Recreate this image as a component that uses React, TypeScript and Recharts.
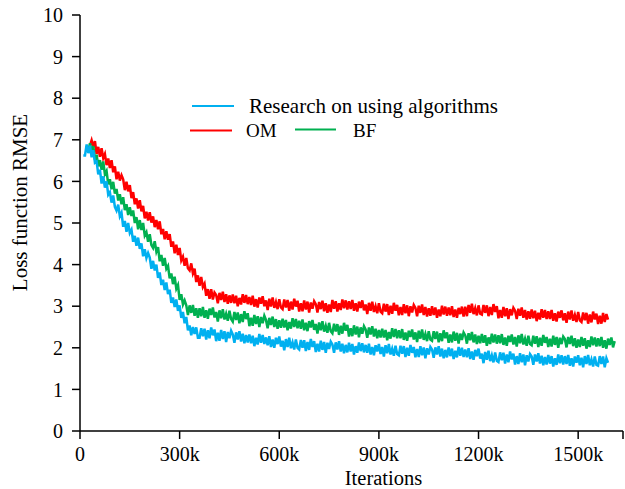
import React from 'react';
import { LineChart, Line, XAxis, YAxis, Legend, Label } from 'recharts';

// Iterations in thousands: 5k grid from 10k to 1610k
const START_K = 10;
const STEP_K = 5;

// Loss function RMSE, "Research on using algorithms" (blue)
const research: (number | null)[] = [
  6.62, 6.62, 6.89, 6.68, 6.86, 6.58, 6.75, 6.45, 6.48, 6.17,
  6.28, 5.95, 6.12, 5.85, 6.00, 5.68, 5.74, 5.49, 5.66, 5.39,
  5.30, 5.44, 5.16, 5.25, 4.91, 5.05, 4.79, 5.00, 4.76, 4.84,
  4.55, 4.69, 4.45, 4.65, 4.38, 4.51, 4.20, 4.37, 4.16, 4.28,
  4.17, 3.90, 4.09, 3.86, 4.00, 3.68, 3.81, 3.51, 3.64, 3.39,
  3.57, 3.29, 3.40, 3.08, 3.21, 2.98, 3.16, 2.89, 3.02, 2.72,
  2.86, 2.59, 2.74, 2.42, 2.54, 2.30, 2.50, 2.33, 2.49, 2.24,
  2.24, 2.47, 2.28, 2.46, 2.20, 2.42, 2.23, 2.49, 2.30, 2.44,
  2.16, 2.36, 2.17, 2.43, 2.21, 2.40, 2.14, 2.38, 2.23, 2.41,
  2.32, 2.12, 2.37, 2.20, 2.40, 2.15, 2.34, 2.11, 2.31, 2.13,
  2.32, 2.11, 2.29, 2.04, 2.24, 2.08, 2.33, 2.12, 2.31, 2.09,
  2.25, 2.06, 2.28, 2.02, 2.20, 2.00, 2.24, 2.09, 2.27, 2.03,
  2.17, 1.94, 2.21, 2.02, 2.24, 1.99, 2.13, 1.96, 2.20, 2.00,
  1.96, 2.19, 2.00, 2.18, 1.92, 2.14, 1.95, 2.21, 2.02, 2.16,
  1.90, 2.10, 1.91, 2.17, 1.95, 2.14, 1.88, 2.12, 1.97, 2.15,
  2.08, 1.88, 2.13, 1.96, 2.16, 1.91, 2.10, 1.87, 2.07, 1.89,
  2.12, 1.91, 2.09, 1.84, 2.04, 1.88, 2.13, 1.92, 2.11, 1.89,
  2.07, 1.88, 2.10, 1.84, 2.02, 1.82, 2.06, 1.91, 2.09, 1.85,
  2.02, 1.79, 2.06, 1.87, 2.09, 1.84, 1.98, 1.81, 2.05, 1.85,
  1.82, 2.05, 1.86, 2.04, 1.78, 2.00, 1.81, 2.07, 1.88, 2.02,
  1.77, 1.97, 1.78, 2.04, 1.82, 2.01, 1.75, 1.99, 1.84, 2.02,
  1.96, 1.76, 2.01, 1.84, 2.04, 1.79, 1.98, 1.75, 1.95, 1.77,
  2.01, 1.80, 1.98, 1.73, 1.93, 1.77, 2.02, 1.81, 2.00, 1.78,
  1.96, 1.77, 1.99, 1.73, 1.91, 1.71, 1.95, 1.80, 1.98, 1.74,
  1.86, 1.63, 1.90, 1.71, 1.93, 1.68, 1.82, 1.65, 1.89, 1.69,
  1.66, 1.89, 1.70, 1.88, 1.62, 1.84, 1.65, 1.91, 1.72, 1.86,
  1.60, 1.80, 1.61, 1.87, 1.65, 1.84, 1.58, 1.82, 1.67, 1.85,
  1.79, 1.59, 1.84, 1.67, 1.87, 1.62, 1.81, 1.58, 1.78, 1.60,
  1.83, 1.62, 1.80, 1.55, 1.75, 1.59, 1.84, 1.63, 1.82, 1.60,
  1.80, 1.61, 1.83, 1.57, 1.75, 1.55, 1.79, 1.64, 1.82, 1.58,
  1.76, 1.53, 1.80, 1.61, 1.83, 1.58, 1.72, 1.55, 1.79, 1.59,
  1.57, 1.80, 1.61, 1.79, 1.53, 1.75, 1.64,
  null, null, null, null,
];

// OM (red)
const om: (number | null)[] = [
  null, null, null, null,
  6.86, 6.99, 6.84, 6.97, 6.66, 6.83, 6.59, 6.80, 6.56, 6.66,
  6.39, 6.55, 6.32, 6.51, 6.22, 6.36, 6.05, 6.23, 6.02, 6.15,
  6.05, 5.79, 5.99, 5.76, 5.91, 5.60, 5.74, 5.45, 5.59, 5.35,
  5.55, 5.28, 5.41, 5.11, 5.27, 5.06, 5.26, 5.01, 5.16, 4.90,
  5.07, 4.85, 5.04, 4.73, 4.86, 4.61, 4.80, 4.60, 4.73, 4.43,
  4.56, 4.27, 4.48, 4.23, 4.40, 4.10, 4.19, 3.97, 4.16, 3.91,
  3.86, 4.03, 3.79, 3.90, 3.58, 3.74, 3.49, 3.70, 3.46, 3.54,
  3.25, 3.41, 3.18, 3.41, 3.16, 3.33,
  3.27, 3.07, 3.32, 3.15, 3.35, 3.10, 3.29, 3.06, 3.26, 3.08,
  3.28, 3.07, 3.25, 3.00, 3.20, 3.04, 3.29, 3.08, 3.27, 3.05,
  3.22, 3.03, 3.25, 2.99, 3.17, 2.97, 3.21, 3.06, 3.24, 3.00,
  3.14, 2.91, 3.18, 2.99, 3.21, 2.96, 3.10, 2.93, 3.17, 2.97,
  2.93, 3.16, 2.97, 3.15, 2.89, 3.11, 2.92, 3.18, 2.99, 3.13,
  2.87, 3.07, 2.88, 3.14, 2.92, 3.11, 2.85, 3.09, 2.94, 3.12,
  3.05, 2.85, 3.10, 2.93, 3.13, 2.88, 3.07, 2.84, 3.04, 2.86,
  3.15, 2.94, 3.12, 2.87, 3.07, 2.91, 3.16, 2.95, 3.14, 2.92,
  3.12, 2.93, 3.15, 2.89, 3.07, 2.87, 3.11, 2.96, 3.14, 2.90,
  3.04, 2.81, 3.08, 2.89, 3.11, 2.86, 3.00, 2.83, 3.07, 2.87,
  2.83, 3.06, 2.87, 3.05, 2.79, 3.01, 2.82, 3.08, 2.89, 3.03,
  2.78, 2.98, 2.79, 3.05, 2.83, 3.02, 2.76, 3.00, 2.85, 3.03,
  2.96, 2.76, 3.01, 2.84, 3.04, 2.79, 2.98, 2.75, 2.95, 2.77,
  3.00, 2.79, 2.97, 2.72, 2.92, 2.76, 3.01, 2.80, 2.99, 2.77,
  2.97, 2.78, 3.00, 2.74, 2.92, 2.72, 2.96, 2.81, 2.99, 2.75,
  2.99, 2.76, 3.03, 2.84, 3.06, 2.81, 2.95, 2.78, 3.02, 2.82,
  2.80, 3.03, 2.84, 3.02, 2.76, 2.98, 2.79, 3.05, 2.86, 3.00,
  2.71, 2.91, 2.72, 2.98, 2.76, 2.95, 2.69, 2.93, 2.78, 2.96,
  2.89, 2.69, 2.94, 2.77, 2.97, 2.72, 2.91, 2.68, 2.88, 2.70,
  2.92, 2.71, 2.89, 2.64, 2.84, 2.68, 2.93, 2.72, 2.91, 2.69,
  2.88, 2.69, 2.91, 2.65, 2.83, 2.63, 2.87, 2.72, 2.90, 2.66,
  2.83, 2.60, 2.87, 2.68, 2.90, 2.65, 2.79, 2.62, 2.86, 2.66,
  2.62, 2.85, 2.66, 2.84, 2.58, 2.80, 2.61, 2.87, 2.68, 2.82,
  2.57, 2.77, 2.58, 2.84, 2.62, 2.81, 2.68,
  null, null, null, null,
];

// BF (green)
const bf: (number | null)[] = [
  null, null,
  6.86, 6.71, 6.92, 6.70, 6.85, 6.52, 6.64, 6.36, 6.51, 6.28,
  6.48, 6.17, 6.25, 5.93, 6.05, 5.81, 5.99, 5.71, 5.82, 5.54,
  5.69, 5.45, 5.62, 5.31, 5.45, 5.19, 5.38, 5.17, 5.30, 5.00,
  5.14, 4.85, 5.07, 4.83, 5.00, 4.70, 4.78, 4.55, 4.73, 4.47,
  4.40, 4.56, 4.31, 4.42, 4.08, 4.23, 3.97, 4.16, 3.90, 3.97,
  3.67, 3.79, 3.53, 3.71, 3.42, 3.51, 3.15, 3.29, 3.04, 3.14,
  3.02, 2.79, 3.02, 2.84, 3.03, 2.77, 2.95, 2.72,
  2.95, 2.76, 2.98, 2.72, 2.90, 2.70, 2.94, 2.79, 2.97, 2.73,
  2.86, 2.63, 2.90, 2.71, 2.93, 2.68, 2.82, 2.65, 2.89, 2.69,
  2.63, 2.86, 2.67, 2.85, 2.59, 2.81, 2.62, 2.88, 2.69, 2.83,
  2.52, 2.72, 2.53, 2.79, 2.57, 2.76, 2.50, 2.74, 2.59, 2.77,
  2.67, 2.47, 2.72, 2.55, 2.75, 2.50, 2.69, 2.46, 2.66, 2.48,
  2.70, 2.49, 2.67, 2.42, 2.62, 2.46, 2.71, 2.50, 2.69, 2.47,
  2.65, 2.46, 2.68, 2.42, 2.60, 2.40, 2.64, 2.49, 2.67, 2.43,
  2.57, 2.34, 2.61, 2.42, 2.64, 2.39, 2.53, 2.36, 2.60, 2.40,
  2.35, 2.58, 2.39, 2.57, 2.31, 2.53, 2.34, 2.60, 2.41, 2.55,
  2.27, 2.47, 2.28, 2.54, 2.32, 2.51, 2.25, 2.49, 2.34, 2.52,
  2.44, 2.24, 2.49, 2.32, 2.52, 2.27, 2.46, 2.23, 2.43, 2.25,
  2.46, 2.25, 2.43, 2.18, 2.38, 2.22, 2.47, 2.26, 2.45, 2.23,
  2.42, 2.23, 2.45, 2.19, 2.37, 2.17, 2.41, 2.26, 2.44, 2.20,
  2.37, 2.14, 2.41, 2.22, 2.44, 2.19, 2.33, 2.16, 2.40, 2.20,
  2.17, 2.40, 2.21, 2.39, 2.13, 2.35, 2.16, 2.42, 2.23, 2.37,
  2.12, 2.32, 2.13, 2.39, 2.17, 2.36, 2.10, 2.34, 2.19, 2.37,
  2.30, 2.10, 2.35, 2.18, 2.38, 2.13, 2.32, 2.09, 2.29, 2.11,
  2.33, 2.12, 2.30, 2.05, 2.25, 2.09, 2.34, 2.13, 2.32, 2.10,
  2.30, 2.11, 2.33, 2.07, 2.25, 2.05, 2.29, 2.14, 2.32, 2.08,
  2.26, 2.03, 2.30, 2.11, 2.33, 2.08, 2.22, 2.05, 2.29, 2.09,
  2.06, 2.29, 2.10, 2.28, 2.02, 2.24, 2.05, 2.31, 2.12, 2.26,
  2.02, 2.22, 2.03, 2.29, 2.07, 2.26, 2.00, 2.24, 2.09, 2.27,
  2.21, 2.01, 2.26, 2.09, 2.29, 2.04, 2.23, 2.00, 2.20, 2.02,
  2.26, 2.05, 2.23, 1.98, 2.18, 2.02, 2.27, 2.06, 2.25, 2.03,
  2.23, 2.04, 2.26, 2.00, 2.18, 1.98, 2.22, 2.07, 2.25, 2.01, 2.16,
];

const xTicks = [0, 300, 600, 900, 1200, 1500, 1635];
const yTicks = [0, 1, 2, 3, 4, 5, 6, 7, 8, 9, 10];

const SERIES = [
  { key: 'om', name: 'OM', color: '#FF0000' },
  { key: 'bf', name: 'BF', color: '#00B050' },
  { key: 'research', name: 'Research on using algorithms', color: '#00B0F0' },
];

const data = research.map((_, i) => ({
  it: START_K + i * STEP_K,
  research: research[i],
  om: om[i] ?? null,
  bf: bf[i] ?? null,
}));

const FONT = "'Liberation Serif', 'Times New Roman', serif";

const legendLayout: Record<string, { x1: number; x2: number; y: number; tx: number; ty: number; fs: number }> = {
  'Research on using algorithms': { x1: 192, x2: 234, y: 106, tx: 249, ty: 113, fs: 21 },
  OM: { x1: 190, x2: 232, y: 130.5, tx: 246, ty: 137, fs: 19 },
  BF: { x1: 295, x2: 336, y: 129.5, tx: 353, ty: 137, fs: 19 },
};

const renderLegend = (props: any) => {
  const payload = props.payload || [];
  return (
    <svg width={625} height={489} style={{ position: 'absolute', left: 0, top: 0, pointerEvents: 'none' }}>
      {payload.map((p: any) => {
        const l = legendLayout[p.value];
        if (!l) return null;
        return (
          <g key={p.value}>
            <line x1={l.x1} x2={l.x2} y1={l.y} y2={l.y} stroke={p.color} strokeWidth={1.8} />
            <text x={l.tx} y={l.ty} fontSize={l.fs} fontFamily={FONT} fill="#000">
              {p.value}
            </text>
          </g>
        );
      })}
    </svg>
  );
};

const YTitle = (props: any) => {
  const vb = props.viewBox || { x: 0, y: 15, width: 80, height: 416 };
  const cx = vb.x + 27;
  const cy = vb.y + vb.height / 2 - 20.5;
  return (
    <text x={cx} y={cy} transform={`rotate(-90 ${cx} ${cy})`} textAnchor="middle" fontSize={21} fontFamily={FONT} fill="#000">
      Loss function RMSE
    </text>
  );
};

const XTitle = (props: any) => {
  const vb = props.viewBox || { x: 80, y: 431, width: 543, height: 58 };
  const cx = vb.x + vb.width / 2 + 32;
  const cy = vb.y + 53.5;
  return (
    <text x={cx} y={cy} textAnchor="middle" fontSize={20.5} fontFamily={FONT} fill="#000">
      Iterations
    </text>
  );
};

export default function App() {
  return (
    <div style={{ position: 'absolute', left: 0, top: 0, width: 625, height: 489, background: '#fff' }}>
      <LineChart width={625} height={489} data={data} margin={{ top: 15, right: 2, bottom: 0, left: 0 }}>
        <XAxis
          dataKey="it"
          type="number"
          domain={[0, 1635]}
          ticks={xTicks}
          interval={0}
          tickFormatter={(v: number) => (v === 1635 ? '' : v === 0 ? '0' : `${v}k`)}
          height={58}
          tickSize={8}
          tickMargin={8}
          axisLine={{ stroke: '#000', strokeWidth: 1.5 }}
          tickLine={{ stroke: '#000', strokeWidth: 1.5 }}
          tick={{ fill: '#000', fontSize: 20, fontFamily: FONT }}
        >
          <Label content={<XTitle />} />
        </XAxis>
        <YAxis
          type="number"
          domain={[0, 10]}
          ticks={yTicks}
          interval={0}
          width={80}
          tickSize={8}
          tickMargin={9}
          axisLine={{ stroke: '#000', strokeWidth: 1.5 }}
          tickLine={{ stroke: '#000', strokeWidth: 1.5 }}
          tick={{ fill: '#000', fontSize: 20, fontFamily: FONT }}
        >
          <Label content={<YTitle />} />
        </YAxis>
        <Legend
          layout="horizontal"
          verticalAlign="middle"
          align="center"
          wrapperStyle={{ position: 'absolute', left: 0, top: 0, width: 625, height: 489 }}
          content={renderLegend}
        />
        {SERIES.map((s) => (
          <Line
            key={s.key}
            dataKey={s.key}
            name={s.name}
            stroke={s.color}
            strokeWidth={2.5}
            dot={false}
            activeDot={false}
            type="linear"
            isAnimationActive={false}
            legendType="line"
          />
        ))}
      </LineChart>
    </div>
  );
}
